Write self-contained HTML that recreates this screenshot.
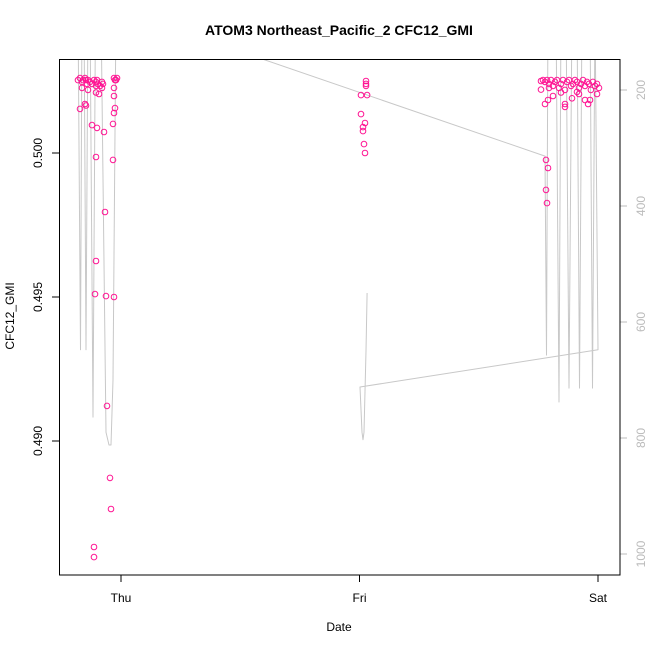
<!DOCTYPE html>
<html><head><meta charset="utf-8"><style>
body{margin:0;background:#fff}
svg{display:block;font-family:"Liberation Sans",sans-serif}
</style></head><body>
<svg id="chart" width="650" height="650" xmlns="http://www.w3.org/2000/svg">
<defs><clipPath id="clip"><rect x="59" y="59" width="561" height="516"/></clipPath></defs>
<rect width="650" height="650" fill="#fff"/>
<text x="339" y="35" text-anchor="middle" font-size="14" font-weight="bold">ATOM3 Northeast_Pacific_2 CFC12_GMI</text>
<text x="339" y="631" text-anchor="middle" font-size="12">Date</text>
<text transform="translate(14,316) rotate(-90)" text-anchor="middle" font-size="12">CFC12_GMI</text>
<g id="gray" clip-path="url(#clip)"></g>
<g id="pts" clip-path="url(#clip)"></g>
<g id="axes"></g>
<rect x="59.5" y="59.5" width="560.5" height="515.5" fill="none" stroke="#000" stroke-width="1"/>
</svg>
<script>
const pathHours=[-4.33,-4.08,-3.92,-3.72,-3.52,-3.32,-3.12,-2.82,-2.57,-2.01,-1.51,-1.21,-1.01,-0.81,-0.5,
42.67,42.82,42.97,43.77,44.08,44.28,44.78,45.08,45.38,45.89,46.14,46.39,47.19,47.45,47.7,48.0,
24.05,24.25,24.35,24.45,24.65,24.76];
const pathPressure=[60,648,60,60,648,60,60,764,60,60,790,812,812,700,60,
314,657,60,60,738,60,60,714,60,60,714,60,60,714,60,648,
712,790,803,790,650,550];
const ptHours=[-4.33,-4.13,-3.92,-3.82,-3.62,-3.52,-3.42,-3.32,-3.12,-2.92,-2.72,-2.52,-2.42,-2.32,-2.11,-1.91,-1.81,-0.70,-0.60,-0.50,-0.40,
-4.13,-3.62,-3.52,-2.92,-2.42,-2.52,-1.71,-1.61,-2.52,-2.62,-1.51,-0.81,-0.81,-0.70,-0.60,-0.70,-0.70,-2.52,-1.41,-1.11,-1.01,-2.72,-2.72,-3.92,-3.32,-1.91,-2.21,-2.52,-0.70,
24.65,24.65,24.65,24.15,24.76,24.15,24.55,24.35,24.35,24.45,24.55,
42.26,42.47,42.67,42.87,43.07,43.27,43.47,43.67,43.87,44.08,44.28,44.48,44.68,44.88,45.08,45.28,45.48,45.68,45.89,46.09,46.29,46.49,46.69,46.89,47.09,47.29,47.49,47.70,47.90,48.1,
42.67,42.97,44.68,44.68,45.38,46.69,47.00,47.90,46.09,44.28,43.47,45.89,47.19,42.26,43.07,
42.77,42.97,42.77,42.87];
const ptValues=[0.50253,0.50260,0.50247,0.50253,0.50260,0.50253,0.50240,0.50253,0.50247,0.50240,0.50253,0.50247,0.50253,0.50240,0.50233,0.50247,0.50240,0.50260,0.50253,0.50253,0.50260,
0.50153,0.50170,0.50165,0.50097,0.50087,0.50233,0.50073,0.49795,0.50210,0.49510,0.49503,0.49976,0.50101,0.50139,0.50156,0.50198,0.50226,0.49625,0.49122,0.48872,0.48764,0.48632,0.48597,0.50226,0.50219,0.50226,0.50205,0.49986,0.49500,
0.50250,0.50240,0.50233,0.50201,0.50201,0.50135,0.50104,0.50090,0.50076,0.50031,0.50000,
0.50250,0.50253,0.50247,0.50253,0.50240,0.50253,0.50233,0.50247,0.50253,0.50226,0.50240,0.50253,0.50219,0.50247,0.50253,0.50233,0.50240,0.50253,0.50247,0.50226,0.50240,0.50253,0.50233,0.50247,0.50240,0.50219,0.50247,0.50233,0.50240,0.50226,
0.50170,0.50184,0.50170,0.50160,0.50190,0.50184,0.50170,0.50205,0.50205,0.50210,0.50198,0.50212,0.50184,0.50220,0.50226,
0.49976,0.49948,0.49872,0.49826];
const leftTicks=[0.490,0.495,0.500];
const leftTickLabels=["0.490","0.495","0.500"];
const rightTicks=[200,400,600,800,1000];
const dayTicks=[0,24,48];
const dayLabels=["Thu","Fri","Sat"];

const xS=h=>121+h*238.5/24;
const yS=v=>153+(0.5-v)*28800;
const pS=p=>90+(p-200)*0.58;
const NS="http://www.w3.org/2000/svg";
function mk(tag,attrs,parent){const e=document.createElementNS(NS,tag);for(const k in attrs)e.setAttribute(k,attrs[k]);parent.appendChild(e);return e;}

const gray=document.getElementById('gray');
let d="";pathHours.forEach((h,i)=>{d+=(i?"L":"M")+xS(h).toFixed(1)+","+pS(pathPressure[i]).toFixed(1);});
const pl=mk('path',{d:d,fill:"none",stroke:"#c8c8c8","stroke-width":1,"stroke-linejoin":"round"},gray);



const pts=document.getElementById('pts');
ptHours.forEach((h,i)=>{
 const c=mk('circle',{cx:xS(h).toFixed(1),cy:yS(ptValues[i]).toFixed(1),r:2.8,fill:"none",stroke:"#ff1493","stroke-width":1},pts);
 
 
});

const ax=document.getElementById('axes');
leftTicks.forEach((v,i)=>{
 const y=yS(v);
 const t=mk('line',{x1:52,x2:59,y1:y,y2:y,stroke:"#000"},ax);
 
 
 const l=mk('text',{transform:`translate(42,${y}) rotate(-90)`,"text-anchor":"middle","font-size":12},ax);
 l.textContent=leftTickLabels[i];
 
 
});
rightTicks.forEach(v=>{
 const y=pS(v);
 const t=mk('line',{x1:620,x2:627,y1:y,y2:y,stroke:"#bbb"},ax);
 
 
 const l=mk('text',{transform:`translate(645,${y}) rotate(-90)`,"text-anchor":"middle","font-size":12,fill:"#bbb"},ax);
 l.textContent=v;
 
 
});
dayTicks.forEach((h,i)=>{
 const x=xS(h);
 const t=mk('line',{x1:x,x2:x,y1:575,y2:582,stroke:"#000"},ax);
 
 
 const l=mk('text',{x:x,y:602,"text-anchor":"middle","font-size":12},ax);
 l.textContent=dayLabels[i];
 
 
});
</script>
</body></html>
